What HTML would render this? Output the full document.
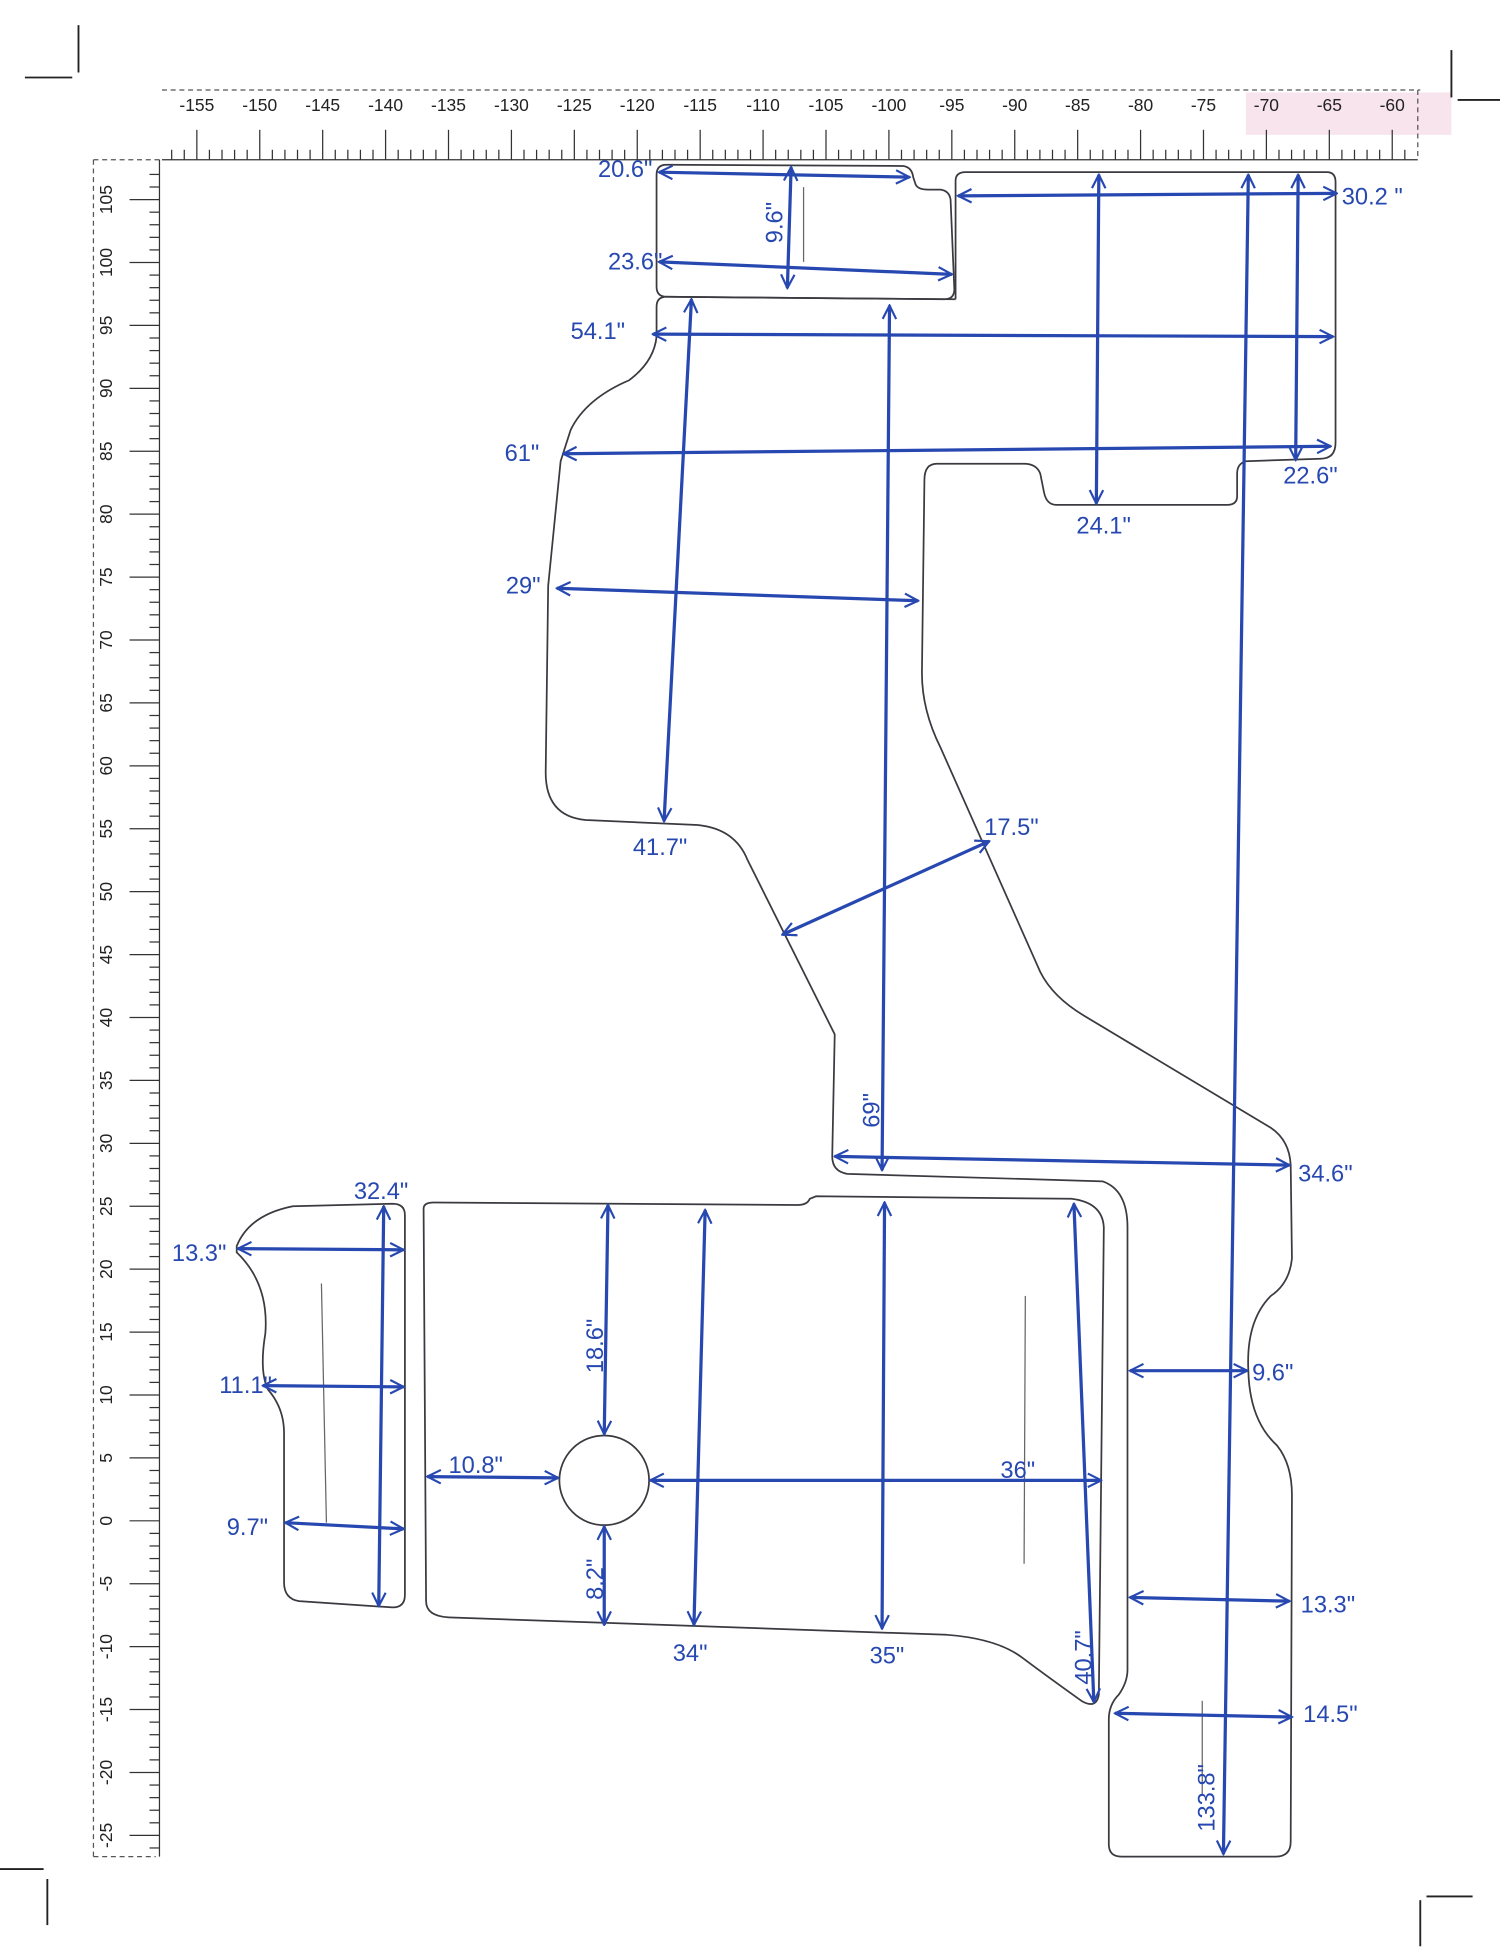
<!DOCTYPE html>
<html><head><meta charset="utf-8">
<style>
html,body{margin:0;padding:0;background:#fff;}
svg{display:block;}
.o{fill:none;stroke:#3a3a40;stroke-width:1.4;}
.a{stroke:#2748b0;stroke-width:2.6;fill:none;marker-start:url(#ah);marker-end:url(#ah);}
.t{fill:#2748b0;font-family:"Liberation Sans",sans-serif;font-size:19px;}
.r{font-family:"Liberation Sans",sans-serif;font-size:14px;fill:#222;}
</style></head><body>
<svg id="s" width="1500" height="1954" viewBox="0 0 1204 1568" xmlns="http://www.w3.org/2000/svg">
<defs>
<marker id="ah" viewBox="0 0 12 12" refX="11" refY="6" markerWidth="5" markerHeight="5" orient="auto-start-reverse" markerUnits="strokeWidth">
<path d="M1,1 L11,6 L1,11" fill="none" stroke="#2748b0" stroke-width="1.6"/>
</marker>
</defs>
<rect width="1204" height="1568" fill="#fff"/>
<rect x="1000" y="74" width="165" height="34" fill="#f7e4ec"/>
<!-- corner marks -->
<g stroke="#222" stroke-width="1.5">
<line x1="20" y1="62" x2="58" y2="62"/><line x1="63" y1="20" x2="63" y2="58"/>
<line x1="1165" y1="40" x2="1165" y2="78"/><line x1="1170" y1="80" x2="1204" y2="80"/>
<line x1="0" y1="1500" x2="35" y2="1500"/><line x1="38" y1="1508" x2="38" y2="1545"/>
<line x1="1140" y1="1525" x2="1140" y2="1562"/><line x1="1145" y1="1522" x2="1182" y2="1522"/>
</g>
<g stroke="#555" stroke-width="1" stroke-dasharray="4,3" fill="none">
<line x1="130" y1="72" x2="1140" y2="72"/><line x1="1138" y1="72" x2="1138" y2="128"/>
<line x1="75" y1="128" x2="75" y2="1490"/><line x1="75" y1="1490" x2="125" y2="1490"/>
<line x1="75" y1="128" x2="130" y2="128"/>
</g>
<g id="ticks" stroke="#333" stroke-width="1"></g>
<line x1="130" y1="128" x2="1138" y2="128" stroke="#333"/>
<line x1="128" y1="128" x2="128" y2="1490" stroke="#333"/>

<!-- outlines -->
<path class="o" d="M527,140 Q527,132 535,132 L725,133 Q732,134 733,142 L735,148 Q737,152 745,152 L755,152 Q762,153 763,160 L766,232 Q766,240 758,240 L535,238 Q527,238 527,230 Z"/>
<path class="o" d="M767,240 L767,145 Q767,138 775,138 L1065,138 Q1072,138 1072,146 L1072,355 Q1072,368 1060,368 L1000,370 Q993,372 993,380 L993,398 Q993,405 985,405 L848,405 Q840,405 838,395 L835,380 Q832,372 822,372 L752,372 Q742,372 742,385 L740,540 Q740,570 755,600 L835,780 Q845,800 870,815 L1020,905 Q1035,915 1036,935 L1037,1010 Q1035,1030 1020,1040 Q1000,1060 1002,1100 Q1003,1140 1025,1160 Q1037,1175 1037,1200 L1036,1478 Q1036,1490 1024,1490 L900,1490 Q890,1490 890,1480 L890,1380 Q890,1368 898,1360 Q905,1350 905,1340 L905,985 Q905,955 885,948 L680,942 Q668,940 668,928 L670,830 L600,690 Q590,665 560,662 L470,658 Q438,655 438,620 L440,470 L450,370 L458,345 Q470,320 505,305 Q525,290 527,270 L527,246 Q527,238 535,238 L767,240"/>
<path class="o" d="M340,970 Q340,965 348,965 L640,967 Q648,967 650,962 L655,960 L860,962 Q885,965 886,985 L882,1360 Q880,1372 868,1365 Q840,1345 820,1330 Q800,1315 760,1312 L360,1298 Q342,1297 342,1285 Z"/>
<circle class="o" cx="485" cy="1188" r="36"/>
<path class="o" d="M190,1000 Q200,975 235,968 L315,966 Q325,966 325,975 L325,1280 Q325,1290 315,1290 L240,1285 Q228,1283 228,1270 L228,1150 Q228,1130 215,1115 Q208,1100 213,1070 Q216,1030 190,1005 Z"/>
<g stroke="#666" stroke-width="1">
<line x1="258" y1="1030" x2="262" y2="1222"/><line x1="823" y1="1040" x2="822" y2="1255"/>
<line x1="645" y1="150" x2="645" y2="210"/><line x1="965" y1="1365" x2="965" y2="1440"/>
</g>

<!-- arrows -->
<line class="a" x1="529" y1="138" x2="730" y2="142"/>
<line class="a" x1="529" y1="210" x2="764" y2="220"/>
<line class="a" x1="635" y1="134" x2="632" y2="231"/>
<line class="a" x1="524" y1="268" x2="1070" y2="270"/>
<line class="a" x1="452" y1="364" x2="1068" y2="358"/>
<line class="a" x1="769" y1="157" x2="1073" y2="155"/>
<line class="a" x1="1042" y1="140" x2="1040" y2="369"/>
<line class="a" x1="882" y1="140" x2="880" y2="404"/>
<line class="a" x1="1002" y1="140" x2="982" y2="1488"/>
<line class="a" x1="447" y1="472" x2="737" y2="482"/>
<line class="a" x1="555" y1="240" x2="533" y2="659"/>
<line class="a" x1="714" y1="245" x2="708" y2="939"/>
<line class="a" x1="628" y1="750" x2="794" y2="675"/>
<line class="a" x1="670" y1="928" x2="1035" y2="935"/>
<line class="a" x1="308" y1="968" x2="304" y2="1289"/>
<line class="a" x1="191" y1="1002" x2="324" y2="1003"/>
<line class="a" x1="211" y1="1112" x2="324" y2="1113"/>
<line class="a" x1="229" y1="1222" x2="324" y2="1227"/>
<line class="a" x1="488" y1="967" x2="485" y2="1151"/>
<line class="a" x1="485" y1="1225" x2="485" y2="1304"/>
<line class="a" x1="343" y1="1185" x2="448" y2="1186"/>
<line class="a" x1="522" y1="1188" x2="884" y2="1188"/>
<line class="a" x1="566" y1="971" x2="557" y2="1304"/>
<line class="a" x1="710" y1="965" x2="708" y2="1307"/>
<line class="a" x1="862" y1="966" x2="878" y2="1366"/>
<line class="a" x1="907" y1="1100" x2="1001" y2="1100"/>
<line class="a" x1="907" y1="1282" x2="1035" y2="1285"/>
<line class="a" x1="895" y1="1375" x2="1037" y2="1378"/>

<!-- labels -->
<text class="t" x="480" y="142" font-size="15">20.6"</text>
<text class="t" x="488" y="216" font-size="16">23.6"</text>
<text class="t" transform="translate(628,195) rotate(-90)" font-size="15">9.6"</text>
<text class="t" x="458" y="272" font-size="21">54.1"</text>
<text class="t" x="405" y="370" font-size="21">61"</text>
<text class="t" x="1077" y="164">30.2 "</text>
<text class="t" x="1030" y="388">22.6"</text>
<text class="t" x="864" y="428">24.1"</text>
<text class="t" transform="translate(975,1470) rotate(-90)">133.8"</text>
<text class="t" x="406" y="476">29"</text>
<text class="t" x="508" y="686">41.7"</text>
<text class="t" transform="translate(706,905) rotate(-90)">69"</text>
<text class="t" x="790" y="670">17.5"</text>
<text class="t" x="1042" y="948" font-size="22">34.6"</text>
<text class="t" x="284" y="962">32.4"</text>
<text class="t" x="138" y="1012">13.3"</text>
<text class="t" x="176" y="1118">11.1"</text>
<text class="t" x="182" y="1232">9.7"</text>
<text class="t" transform="translate(484,1102) rotate(-90)">18.6"</text>
<text class="t" transform="translate(484,1284) rotate(-90)">8.2"</text>
<text class="t" x="360" y="1182">10.8"</text>
<text class="t" x="803" y="1186">36"</text>
<text class="t" x="540" y="1333">34"</text>
<text class="t" x="698" y="1335">35"</text>
<text class="t" transform="translate(876,1352) rotate(-90)">40.7"</text>
<text class="t" x="1005" y="1108">9.6"</text>
<text class="t" x="1044" y="1294">13.3"</text>
<text class="t" x="1046" y="1382">14.5"</text>
</svg>
<script>
(function(){
var NS="http://www.w3.org/2000/svg",g=document.getElementById("ticks"),s=document.getElementById("s");
function L(x1,y1,x2,y2){var l=document.createElementNS(NS,"line");l.setAttribute("x1",x1);l.setAttribute("y1",y1);l.setAttribute("x2",x2);l.setAttribute("y2",y2);g.appendChild(l);}
function T(x,y,txt,rot){var t=document.createElementNS(NS,"text");t.setAttribute("class","r");t.setAttribute("text-anchor","middle");if(rot){t.setAttribute("transform","translate("+x+","+y+") rotate(-90)");}else{t.setAttribute("x",x);t.setAttribute("y",y);}t.textContent=txt;s.appendChild(t);}
var u=10.1;
for(var v=-158;v<=-58;v++){var x=158+(v+155)*u;if(x<131||x>1137)continue;var len=v%5==0?24:8;L(x,128,x,128-len);if(v%5==0)T(x,89,String(v));}
for(var v=-26;v<=107;v++){var y=160+(105-v)*u;if(y<129||y>1489)continue;var len=v%5==0?24:8;L(128,y,128-len,y);if(v%5==0)T(90,y,String(v),true);}
})();
</script>
</body></html>
